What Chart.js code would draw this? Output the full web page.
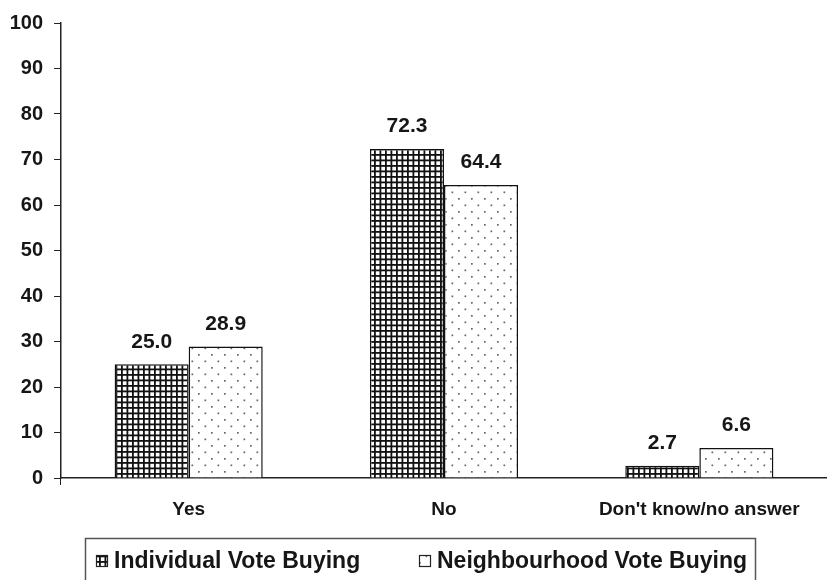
<!DOCTYPE html>
<html>
<head>
<meta charset="utf-8">
<script src="https://cdn.jsdelivr.net/npm/chart.js@4/dist/chart.umd.min.js"></script>
<style>
  html, body { margin: 0; padding: 0; background: #fff; overflow: hidden; }
  canvas { display: block; }
</style>
</head>
<body>
<canvas id="vote-buying-chart" width="827" height="580"></canvas>
<script>
// Survey answers and the share (%) for each kind of vote buying
const categories = ['Yes', 'No', "Don't know/no answer"];
const individualVoteBuying = [25.0, 72.3, 2.7];
const neighbourhoodVoteBuying = [28.9, 64.4, 6.6];
const seriesNames = ['Individual Vote Buying', 'Neighbourhood Vote Buying'];
const yMin = 0;
const yMax = 100;
const yStep = 10;

const fontFamily = "'Liberation Sans', Arial, sans-serif";
const ink = '#161616';

//Dense black grid with small white squares
function gridPattern(){
    const c = document.createElement('canvas');
    c.width = 11;
    c.height = 11;
    const g = c.getContext('2d');
    g.fillStyle = '#fff';
    g.fillRect(0, 0, 11, 11);
    g.fillStyle = '#111';
    g.fillRect(0, 0, 1.8, 11);
    g.fillRect(5.5, 0, 1.8, 11);
    g.fillRect(0, 0, 11, 1.8);
    g.fillRect(0, 5.5, 11, 1.8);
    return g.createPattern(c, 'repeat');
}

//White fill with sparse staggered grey dots
function dotPattern(){
    const c = document.createElement('canvas');
    c.width = 13;
    c.height = 13;
    const g = c.getContext('2d');
    g.fillStyle = '#fff';
    g.fillRect(0, 0, 13, 13);
    g.fillStyle = '#666';
    g.fillRect(3, 3, 1.7, 1.7);
    g.fillRect(9.5, 9.5, 1.7, 1.7);
    return g.createPattern(c, 'repeat');
}

const fills = [gridPattern(), dotPattern()];

//Writes each bar's value above it
const valueLabels = {
    id: 'valueLabels',
    afterDatasetsDraw(chart){
        const ctx = chart.ctx;
        ctx.save();
        ctx.font = `bold 21px ${fontFamily}`;
        ctx.fillStyle = ink;
        ctx.textAlign = 'center';
        ctx.textBaseline = 'bottom';
        chart.data.datasets.forEach((ds, i) => {
            chart.getDatasetMeta(i).data.forEach((bar, j) => {
                ctx.fillText(ds.data[j].toFixed(1), bar.x, bar.y - 12);
            });
        });
        ctx.restore();
    }
};

//Framed legend under the axis
const boxedLegend = {
    id: 'boxedLegend',
    afterDraw(chart){
        const ctx = chart.ctx;
        const itemX = [96, 419];
        ctx.save();
        ctx.strokeStyle = '#555';
        ctx.lineWidth = 1.5;
        ctx.strokeRect(85.5, 538.5, 670, 60);
        ctx.font = `bold 23px ${fontFamily}`;
        ctx.textBaseline = 'middle';
        chart.data.datasets.forEach((ds, i) => {
            ctx.fillStyle = ds.backgroundColor;
            ctx.fillRect(itemX[i], 555, 11, 11);
            ctx.strokeStyle = '#222';
            ctx.lineWidth = 1.2;
            ctx.strokeRect(itemX[i] + 0.5, 555.5, 11, 11);
            ctx.fillStyle = ink;
            ctx.fillText(ds.label, itemX[i] + 18, 562);
        });
        ctx.restore();
    }
};

const voteBuyingChart = new Chart('vote-buying-chart', {
    type: 'bar',
    data: {
        labels: categories,
        datasets: [{
            label: seriesNames[0],
            data: individualVoteBuying,
            backgroundColor: fills[0],
            borderColor: '#111',
            borderWidth: 1.5
        }, {
            label: seriesNames[1],
            data: neighbourhoodVoteBuying,
            backgroundColor: fills[1],
            borderColor: '#111',
            borderWidth: 1.5
        }]
    },
    options: {
        responsive: false,
        animation: false,
        devicePixelRatio: 1,
        layout: {
            padding: { top: 20, right: 0, bottom: 0, left: 0 }
        },
        datasets: {
            bar: { categoryPercentage: 0.58, barPercentage: 1.0 }
        },
        plugins: {
            legend: { display: false },
            tooltip: { enabled: false }
        },
        scales: {
            x: {
                afterFit(scale){ scale.height = 102; },
                border: { color: '#222', width: 1.5 },
                grid: {
                    drawOnChartArea: false,
                    tickLength: 7,
                    color: (c) => c.index === 0 ? '#222' : 'rgba(0,0,0,0)'
                },
                ticks: {
                    padding: 13,
                    color: ink,
                    font: { family: fontFamily, size: 19, weight: 'bold' }
                }
            },
            y: {
                min: yMin,
                max: yMax,
                afterFit(scale){ scale.width = 61; },
                border: { color: '#222', width: 1.5 },
                grid: {
                    drawOnChartArea: false,
                    tickLength: 7,
                    color: '#222'
                },
                ticks: {
                    stepSize: yStep,
                    padding: 11,
                    color: ink,
                    font: { family: fontFamily, size: 20, weight: 'bold' }
                }
            }
        }
    },
    plugins: [valueLabels, boxedLegend]
});
</script>
</body>
</html>
